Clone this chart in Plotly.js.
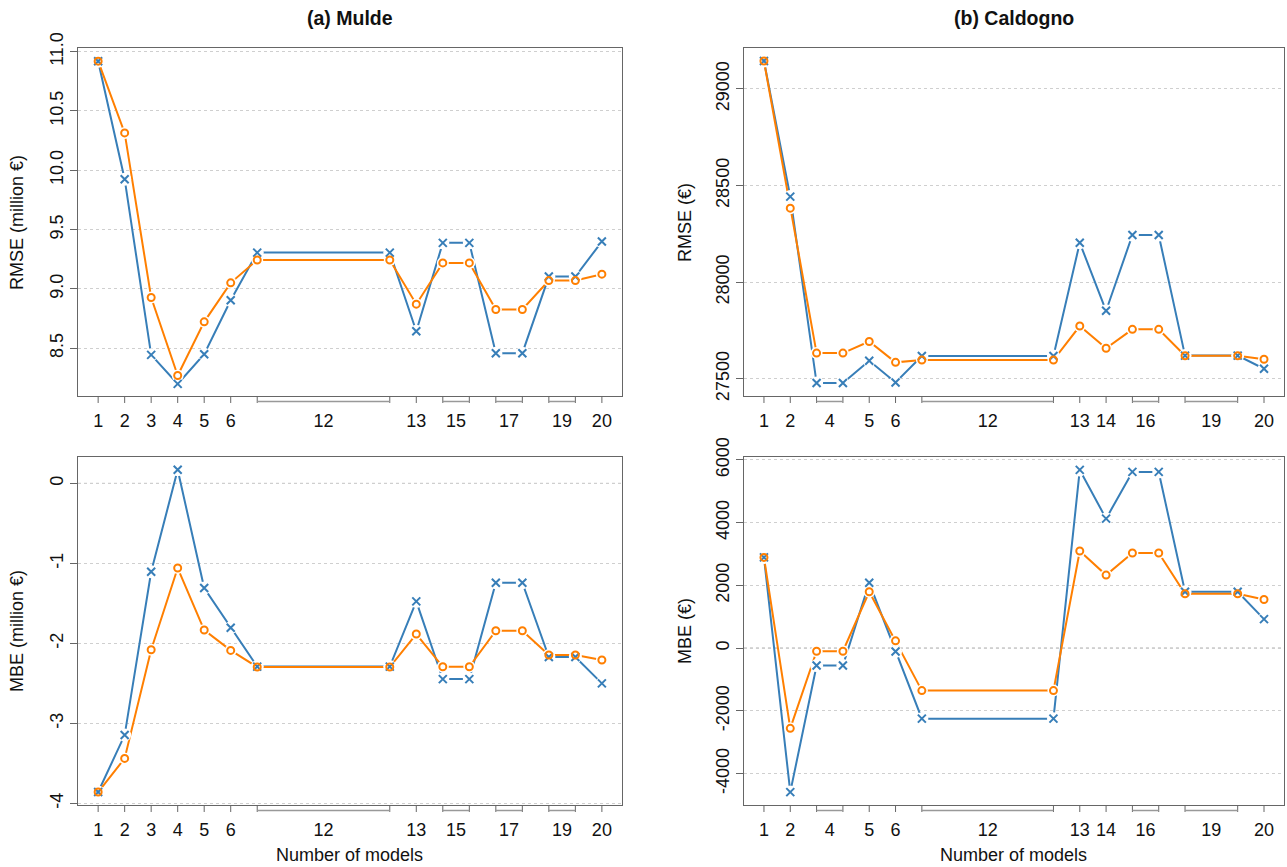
<!DOCTYPE html>
<html>
<head>
<meta charset="utf-8">
<script src="https://cdn.plot.ly/plotly-3.0.1.min.js"></script>
<style>html,body{margin:0;padding:0;background:#fff;}#chart{width:1287px;height:867px;}</style>
</head>
<body>
<div id="chart"></div>
<script>
// ---------- data ----------
var muldeModels = [1,2,3,4,5,6,7,12,13,14,15,16,17,18,19,20];
var muldeRmseX = [10.92,9.925,8.444,8.199,8.449,8.904,9.306,9.306,8.643,9.388,9.388,8.458,8.458,9.104,9.104,9.399];
var muldeRmseO = [10.92,10.315,8.927,8.270,8.722,9.051,9.244,9.244,8.871,9.219,9.219,8.826,8.826,9.070,9.070,9.124];
var muldeMbeX = [-3.858,-3.146,-1.104,0.171,-1.308,-1.804,-2.290,-2.290,-1.475,-2.446,-2.446,-1.242,-1.242,-2.170,-2.170,-2.500];
var muldeMbeO = [-3.858,-3.4375,-2.079,-1.058,-1.833,-2.0875,-2.295,-2.295,-1.883,-2.292,-2.292,-1.842,-1.842,-2.145,-2.145,-2.208];

var caldModels = [1,2,3,4,5,6,7,12,13,14,15,16,17,19,20];
var caldRmseX = [29145,28443,27478,27478,27593,27481,27618,27618,28204,27852,28244,28244,27620,27620,27552];
var caldRmseO = [29145,28383,27633,27633,27693,27585,27597,27597,27773,27658,27756,27756,27619,27619,27601];
var caldMbeX = [2894,-4585,-553,-553,2085,-106,-2245,-2245,5681,4128,5617,5617,1798,1798,926];
var caldMbeO = [2894,-2553,-96,-96,1798,234,-1351,-1351,3096,2330,3032,3032,1734,1734,1553];

var muldeTickVals = [1,2,3,4,5,6,9.5,13,14.5,16.5,18.5,20];
var muldeTickText = ['1','2','3','4','5','6','12','13','15','17','19','20'];
var muldeTickMarks = [1,2,3,4,5,6,13,20];
var muldeBrackets = [[7,12],[14,15],[16,17],[18,19]];

var caldTickVals = [1,2,3.5,5,6,9.5,13,14,15.5,18,20];
var caldTickText = ['1','2','4','5','6','12','13','14','16','19','20'];
var caldTickMarks = [1,2,5,6,13,14,20];
var caldBrackets = [[3,4],[7,12],[15,16],[17,19]];

var muldeRmseTicks = [8.5,9.0,9.5,10.0,10.5,11.0];
var muldeRmseTickText = ['8.5','9.0','9.5','10.0','10.5','11.0'];
var muldeMbeTicks = [-4,-3,-2,-1,0];
var muldeMbeTickText = ['-4','-3','-2','-1','0'];
var caldRmseTicks = [27500,28000,28500,29000];
var caldRmseTickText = ['27500','28000','28500','29000'];
var caldMbeTicks = [-4000,-2000,0,2000,4000,6000];
var caldMbeTickText = ['-4000','-2000','0','2000','4000','6000'];

// ---------- styling ----------
var BLUE = '#377eb8', ORANGE = '#ff7f00';
var FONT = 'Liberation Sans, Arial, sans-serif';
var FS = 18;
var traces = [];

function addPanel(xs, yX, yO, xa, ya) {
  traces.push({x: xs, y: yX, xaxis: xa, yaxis: ya, mode: 'lines', line: {color: BLUE, width: 2}, hoverinfo: 'skip', showlegend: false});
  traces.push({x: xs, y: yO, xaxis: xa, yaxis: ya, mode: 'lines', line: {color: ORANGE, width: 2}, hoverinfo: 'skip', showlegend: false});
  traces.push({x: xs, y: yX, xaxis: xa, yaxis: ya, mode: 'markers', marker: {symbol: 'circle', size: 13, color: '#fff', line: {width: 0}}, hoverinfo: 'skip', showlegend: false});
  traces.push({x: xs, y: yO, xaxis: xa, yaxis: ya, mode: 'markers', marker: {symbol: 'circle', size: 12, color: '#fff', line: {width: 0}}, hoverinfo: 'skip', showlegend: false});
  traces.push({x: xs, y: yX, xaxis: xa, yaxis: ya, mode: 'markers', marker: {symbol: 'x-thin-open', size: 8, color: BLUE, line: {color: BLUE, width: 2}}, showlegend: false});
  traces.push({x: xs, y: yO, xaxis: xa, yaxis: ya, mode: 'markers', marker: {symbol: 'circle-open', size: 7, color: ORANGE, line: {color: ORANGE, width: 2}}, showlegend: false});
}
addPanel(muldeModels, muldeRmseX, muldeRmseO, 'x', 'y');
addPanel(caldModels, caldRmseX, caldRmseO, 'x2', 'y2');
addPanel(muldeModels, muldeMbeX, muldeMbeO, 'x3', 'y3');
addPanel(caldModels, caldMbeX, caldMbeO, 'x4', 'y4');

var PANEL_H = 348;
var TICK = 7 / PANEL_H, BR = 5.5 / PANEL_H;
var shapes = [];
function addTicks(xref, yref, marks, brackets) {
  marks.forEach(function (v) {
    shapes.push({type: 'line', xref: xref, yref: yref + ' domain', x0: v, x1: v, y0: 0, y1: -TICK, line: {color: '#666', width: 1}});
  });
  brackets.forEach(function (b) {
    shapes.push({type: 'line', xref: xref, yref: yref + ' domain', x0: b[0], x1: b[0], y0: 0, y1: -TICK, line: {color: '#666', width: 1}});
    shapes.push({type: 'line', xref: xref, yref: yref + ' domain', x0: b[1], x1: b[1], y0: 0, y1: -TICK, line: {color: '#666', width: 1}});
    shapes.push({type: 'line', xref: xref, yref: yref + ' domain', x0: b[0], x1: b[1], y0: -BR, y1: -BR, line: {color: '#999', width: 1.5}});
  });
}
addTicks('x', 'y', muldeTickMarks, muldeBrackets);
addTicks('x2', 'y2', caldTickMarks, caldBrackets);
addTicks('x3', 'y3', muldeTickMarks, muldeBrackets);
addTicks('x4', 'y4', caldTickMarks, caldBrackets);
// dotted zero reference lines in MBE panels
shapes.push({type: 'line', xref: 'x3 domain', yref: 'y3', x0: 0, x1: 1, y0: 0, y1: 0, layer: 'below', line: {color: '#777', width: 1, dash: 'dot'}});
shapes.push({type: 'line', xref: 'x4 domain', yref: 'y4', x0: 0, x1: 1, y0: 0, y1: 0, layer: 'below', line: {color: '#777', width: 1, dash: 'dot'}});

function xAxis(domain, anchor, vals, text) {
  return {domain: domain, anchor: anchor, range: [0.24, 20.76], tickmode: 'array', tickvals: vals, ticktext: text,
    ticks: 'outside', ticklen: 7, tickcolor: 'rgba(0,0,0,0)', ticklabelstandoff: 1,
    showline: true, mirror: true, linecolor: '#666', linewidth: 1, showgrid: false, zeroline: false,
    tickfont: {family: FONT, size: FS, color: '#111'}, fixedrange: true};
}
function yAxis(domain, anchor, range, vals, text) {
  return {domain: domain, anchor: anchor, range: range, tickmode: 'array', tickvals: vals, ticktext: text,
    ticks: 'outside', ticklen: 7, tickcolor: '#666', tickangle: -90,
    showline: true, mirror: true, linecolor: '#666', linewidth: 1,
    showgrid: true, gridcolor: '#cfcfcf', griddash: 'dot', gridwidth: 1, zeroline: false,
    tickfont: {family: FONT, size: FS, color: '#111'}, fixedrange: true};
}

var XL = [0, 0.4511], XR = [0.5522, 1], YT = [0.5403, 1], YB = [0, 0.4597];

function ann(text, x, y, angle, size) {
  return {text: text, xref: 'paper', yref: 'paper', x: x, y: y, textangle: angle || 0, showarrow: false,
    xanchor: 'center', yanchor: 'middle', font: {family: FONT, size: size || FS, color: '#111'}};
}

var layout = {
  width: 1287, height: 867,
  margin: {l: 78, r: 3, t: 48, b: 62},
  paper_bgcolor: '#fff', plot_bgcolor: '#fff',
  font: {family: FONT, color: '#111'},
  showlegend: false,
  xaxis: xAxis(XL, 'y', muldeTickVals, muldeTickText),
  xaxis2: xAxis(XR, 'y2', caldTickVals, caldTickText),
  xaxis3: xAxis(XL, 'y3', muldeTickVals, muldeTickText),
  xaxis4: xAxis(XR, 'y4', caldTickVals, caldTickText),
  yaxis: yAxis(YT, 'x', [8.097, 11.031], muldeRmseTicks, muldeRmseTickText),
  yaxis2: yAxis(YT, 'x2', [27411, 29212], caldRmseTicks, caldRmseTickText),
  yaxis3: yAxis(YB, 'x3', [-4.02, 0.33], muldeMbeTicks, muldeMbeTickText),
  yaxis4: yAxis(YB, 'x4', [-4996, 6092], caldMbeTicks, caldMbeTickText),
  shapes: shapes,
  annotations: [
    ann('<b>(a) Mulde</b>', 0.2255, 1.0396, 0, 19.5),
    ann('<b>(b) Caldogno</b>', 0.7761, 1.0396, 0, 19.5),
    ann('RMSE (million €)', -0.0506, 0.770, -90),
    ann('MBE (million €)', -0.0506, 0.2299, -90),
    ann('RMSE (€)', 0.5033, 0.770, -90),
    ann('MBE (€)', 0.5033, 0.2299, -90),
    ann('Number of models', 0.2255, -0.066),
    ann('Number of models', 0.7761, -0.066)
  ]
};

Plotly.newPlot('chart', traces, layout, {displayModeBar: false, staticPlot: true});
</script>
</body>
</html>
